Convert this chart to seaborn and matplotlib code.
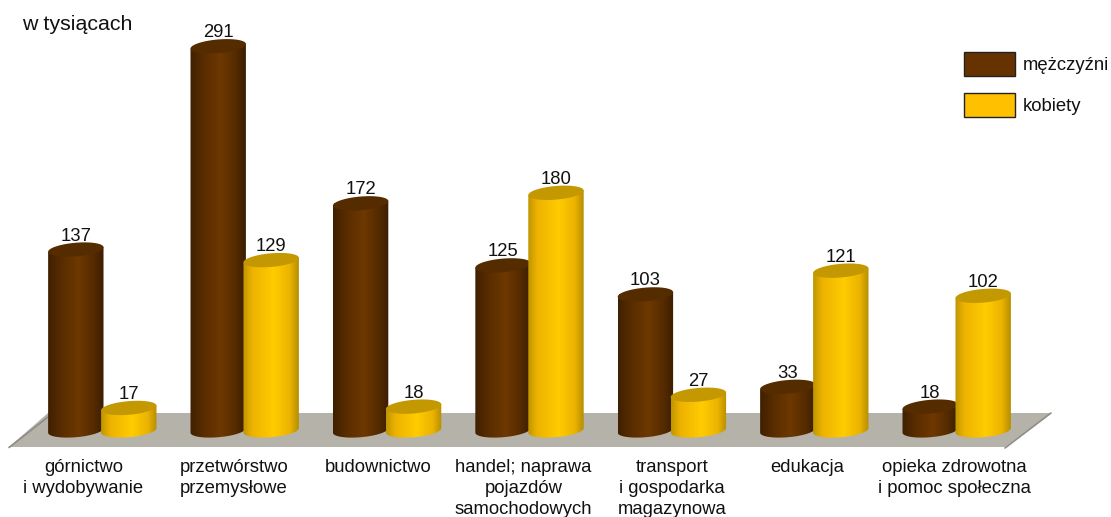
import matplotlib
matplotlib.use("Agg")
import numpy as np
import pandas as pd
import seaborn as sns
import matplotlib.pyplot as plt
from matplotlib.colors import LinearSegmentedColormap
from matplotlib.patches import Polygon
from matplotlib.path import Path
from matplotlib.transforms import IdentityTransform, ScaledTranslation

categories = ["górnictwo\ni wydobywanie", "przetwórstwo\nprzemysłowe", "budownictwo",
              "handel; naprawa\npojazdów\nsamochodowych", "transport\ni gospodarka\nmagazynowa",
              "edukacja", "opieka zdrowotna\ni pomoc społeczna"]
men = [137, 291, 172, 125, 103, 33, 18]
women = [17, 129, 18, 180, 27, 121, 102]
series_names = ["mężczyźni", "kobiety"]
label_shift_px = [-19, -11, -9, -6, 0, -7, -2]

W, H = 1111, 517
sns.set_theme(style="white")
plt.rcParams["font.family"] = ["Liberation Sans", "DejaVu Sans"]
TXT = "#111111"
FS = 13.3

df = pd.DataFrame({
    "kategoria": categories * 2,
    "wartosc": men + women,
    "plec": [series_names[0]] * len(men) + [series_names[1]] * len(women),
})

fig = plt.figure(figsize=(W / 100, H / 100), dpi=100, facecolor="white")
ax = fig.add_axes([0, (H - 452) / H, 1, 452 / H])
ax.patch.set_alpha(0)

palette = {series_names[0]: "#663300", series_names[1]: "#FFC000"}
sns.barplot(data=df, x="kategoria", y="wartosc", hue="plec", hue_order=series_names,
            order=categories, palette=palette, saturation=1, width=0.744, gap=0,
            edgecolor="#222222", linewidth=1, ax=ax, errorbar=None)

Y_ZERO, Y_SCALE, X0, X_STEP = 430.4, 1.32, 102.3, 142.4
xlim = (-X0 / X_STEP, (W - X0) / X_STEP)
ylim = ((Y_ZERO - 452) / Y_SCALE, Y_ZERO / Y_SCALE)
ax.set_xlim(xlim)
ax.set_ylim(ylim)
ax.set_xlabel("")
ax.set_ylabel("")
ax.set_yticks([])
for s in ax.spines.values():
    s.set_visible(False)

# legend
handles, labels = ax.get_legend_handles_labels()
leg = ax.legend(handles, labels, loc="upper left", bbox_to_anchor=(958.5 / W, (452 - 46) / 452),
                frameon=False, fontsize=FS, handlelength=2.76, handleheight=1.62,
                labelspacing=0.93, handletextpad=0.43, borderpad=0.3, borderaxespad=0,
                labelcolor=TXT)

# floor (pixel geometry, y from top)
floor_px = [(9, 447), (1005, 447), (1051, 413), (48, 413)]
ax.add_patch(Polygon([(x, H - y) for x, y in floor_px], closed=True, facecolor="#B5B2AA",
                     edgecolor="none", transform=IdentityTransform(), zorder=0.5, clip_on=False))
ax.plot([9, 48], [H - 447.5, H - 417], color="#8E8C86", lw=1.2, transform=IdentityTransform(),
        zorder=0.6, clip_on=False)
ax.plot([1005, 1051], [H - 448, H - 413], color="#8E8C86", lw=1.2, transform=IdentityTransform(),
        zorder=0.6, clip_on=False)

# cylinders built on top of each seaborn bar
cmaps = [
    LinearSegmentedColormap.from_list("b", [(0, "#3F2000"), (0.25, "#5A2D00"), (0.55, "#6E3800"),
                                            (0.82, "#552B00"), (1, "#3C1E00")]),
    LinearSegmentedColormap.from_list("y", [(0, "#BF9500"), (0.16, "#EDB200"), (0.55, "#FFCC00"),
                                            (0.84, "#ECB300"), (1, "#B58E00")]),
]
top_cols = ["#552B00", "#C49800"]
A, B, TH = 27.8, 6.8, np.deg2rad(5)
grad = np.linspace(0, 1, 128)[None, :]


def ell(cx, cy, t):
    return np.c_[cx + A * np.cos(t) * np.cos(TH) - B * np.sin(t) * np.sin(TH),
                 cy + A * np.cos(t) * np.sin(TH) + B * np.sin(t) * np.cos(TH)]


fig.canvas.draw()
for si, cont in enumerate(ax.containers):
    for bi, p in enumerate(cont.patches):
        p.set_linewidth(0)
        xc = p.get_x() + p.get_width() / 2
        cx, cy_top = ax.transData.transform((xc, p.get_height()))
        _, cy_bot = ax.transData.transform((xc, 0))
        z = 2 + si + bi * 0.01
        p.set_zorder(1)
        body = np.vstack([ell(cx, cy_bot, np.linspace(np.pi, 2 * np.pi, 60)),
                          ell(cx, cy_top, np.array([0.0])),
                          ell(cx, cy_top, np.array([np.pi]))])
        inv = ax.transData.inverted()
        (xl, yl), (xr, yr) = inv.transform([(cx - A, cy_bot - 12), (cx + A, cy_top + 12)])
        im = ax.imshow(grad, cmap=cmaps[si], extent=(xl, xr, yl, yr), aspect="auto",
                       zorder=z, interpolation="bilinear", clip_on=True)
        im.set_clip_path(Path(np.vstack([body, body[0]]), closed=True), transform=IdentityTransform())
        ax.add_patch(Polygon(ell(cx, cy_top, np.linspace(0, 2 * np.pi, 80)), closed=True,
                             facecolor=top_cols[si], edgecolor="none",
                             transform=IdentityTransform(), zorder=z + 0.001, clip_on=False))
    ax.bar_label(cont, labels=[str(int(v)) for v in cont.datavalues], padding=3.6, fontsize=FS,
                 color=TXT, zorder=10)
ax.set_xlim(xlim)
ax.set_ylim(ylim)

# tick labels
ax.set_xticks(range(len(categories)))
ax.set_xticklabels(categories, fontsize=FS, color=TXT, linespacing=1.3)
ax.tick_params(axis="x", length=0, pad=5)
for lab, dx in zip(ax.get_xticklabels(), label_shift_px):
    lab.set_transform(lab.get_transform() + ScaledTranslation(dx / 100, 0, fig.dpi_scale_trans))

fig.text(22 / W, 1 - 25 / H, "w tysiącach", fontsize=15.4, color=TXT, ha="left", va="center")

fig.savefig("out.png", dpi=100)
